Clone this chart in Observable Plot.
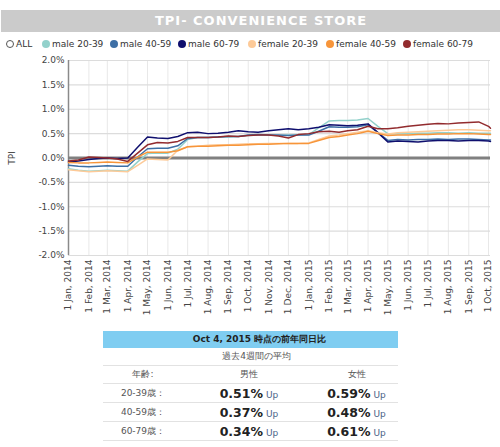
<!DOCTYPE html>
<html>
<head>
<meta charset="utf-8">
<script src="https://cdn.jsdelivr.net/npm/d3@7"></script>
<script src="https://cdn.jsdelivr.net/npm/@observablehq/plot@0.6"></script>
<style>
  body { margin: 0; width: 500px; height: 447px; background: #fff; overflow: hidden; position: relative;
         font-family: "DejaVu Sans", Verdana, sans-serif; }
  #title { position: absolute; left: 1px; top: 10px; width: 499px; height: 22px; background: #cbcbcb; box-sizing: border-box;
           padding-left: 21px; color: #fff; font-weight: bold; font-size: 13px; letter-spacing: 1px; text-align: center; line-height: 22px; }
  #legend { position: absolute; top: 39px; left: 0; height: 14px; font-size: 9px; color: #333; }
  #legend .item { position: absolute; top: 0; white-space: nowrap; display: flex; align-items: center; }
  #legend .dot { width: 8px; height: 8px; border-radius: 50%; margin-right: 2px; box-sizing: border-box; }
  #chart { position: absolute; top: 52px; left: 0; }
  #summary { position: absolute; left: 103px; top: 331px; width: 295px; border-collapse: collapse;
             font-size: 9px; color: #555; }
  #summary td { text-align: center; padding: 0; border-bottom: 1px solid #e2e2e2; }
  #summary tr.head td { background: #7fcdf1; color: #222; font-weight: bold; height: 17px; border-bottom: none; padding-left: 18px; }
  #summary tr.sub td { height: 17px; padding-left: 12px; }
  #summary tr.cols td { height: 17px; }
  #summary tr.val td { height: 18px; }
  #summary .num { font-size: 12.5px; font-weight: bold; color: #222; }
  #summary .up { font-size: 9px; color: #4a6387; margin-left: 3px; }
</style>
</head>
<body>
<div id="title">TPI- CONVENIENCE STORE</div>
<div id="legend"></div>
<div id="chart"></div>
<table id="summary"></table>
<script>
// Series names, in legend order
const seriesNames = ["male 20-39", "male 40-59", "male 60-79", "female 20-39", "female 40-59", "female 60-79"];

// Observation dates (twice a month, Jan 2014 – Oct 4, 2015)
const dates = [
  "2014-01-01","2014-01-16","2014-02-01","2014-02-16","2014-03-01","2014-03-16",
  "2014-04-01","2014-04-16","2014-05-01","2014-05-16","2014-06-01","2014-06-16",
  "2014-07-01","2014-07-16","2014-08-01","2014-08-16","2014-09-01","2014-09-16",
  "2014-10-01","2014-10-16","2014-11-01","2014-11-16","2014-12-01","2014-12-16",
  "2015-01-01","2015-01-16","2015-02-01","2015-02-16","2015-03-01","2015-03-16",
  "2015-04-01","2015-04-16","2015-05-01","2015-05-16","2015-06-01","2015-06-16",
  "2015-07-01","2015-07-16","2015-08-01","2015-08-16","2015-09-01","2015-09-16",
  "2015-10-01","2015-10-04"
];

// TPI (% year-on-year) per series
const male2039 = [-0.22,-0.25,-0.27,-0.26,-0.25,-0.26,-0.27,-0.08,0.09,0.10,0.10,0.18,
  0.38,0.42,0.42,0.43,0.43,0.44,0.46,0.47,0.47,0.46,0.47,0.47,
  0.48,0.62,0.76,0.77,0.77,0.78,0.81,0.65,0.50,0.50,0.50,0.51,
  0.51,0.52,0.52,0.51,0.52,0.51,0.51,0.51];
const male4059 = [-0.15,-0.17,-0.18,-0.17,-0.16,-0.17,-0.17,0.02,0.19,0.20,0.20,0.25,
  0.40,0.42,0.42,0.43,0.44,0.44,0.47,0.48,0.47,0.47,0.46,0.47,
  0.47,0.55,0.64,0.63,0.63,0.64,0.68,0.52,0.36,0.38,0.37,0.38,
  0.38,0.39,0.38,0.39,0.39,0.38,0.37,0.37];
const male6079 = [-0.08,-0.06,-0.03,-0.01,0.00,-0.01,0.00,0.22,0.43,0.41,0.40,0.44,
  0.52,0.53,0.50,0.51,0.53,0.56,0.54,0.53,0.56,0.58,0.60,0.58,
  0.60,0.63,0.68,0.67,0.66,0.67,0.70,0.52,0.33,0.35,0.34,0.33,
  0.35,0.36,0.36,0.35,0.36,0.36,0.35,0.34];
const female2039 = [-0.24,-0.26,-0.28,-0.27,-0.26,-0.27,-0.28,-0.15,-0.02,-0.03,-0.04,0.16,
  0.23,0.24,0.26,0.27,0.27,0.28,0.29,0.29,0.30,0.30,0.30,0.30,
  0.31,0.38,0.45,0.47,0.50,0.53,0.56,0.52,0.49,0.52,0.53,0.54,
  0.55,0.56,0.57,0.58,0.58,0.57,0.56,0.56];
const female4059 = [-0.09,-0.10,-0.10,-0.09,-0.08,-0.09,-0.10,0.02,0.12,0.12,0.12,0.15,
  0.23,0.24,0.24,0.25,0.26,0.26,0.27,0.28,0.28,0.29,0.30,0.30,
  0.30,0.36,0.42,0.44,0.47,0.50,0.55,0.50,0.46,0.47,0.47,0.48,
  0.48,0.49,0.49,0.50,0.50,0.49,0.48,0.48];
const female6079 = [-0.06,-0.04,0.02,0.01,0.00,-0.02,-0.07,0.10,0.27,0.32,0.31,0.34,
  0.42,0.42,0.42,0.43,0.45,0.44,0.46,0.47,0.47,0.45,0.41,0.48,
  0.50,0.54,0.55,0.53,0.56,0.58,0.65,0.60,0.60,0.62,0.65,0.67,
  0.69,0.71,0.70,0.72,0.73,0.74,0.65,0.61];

// Axis ticks
const monthTicks = [
  "2014-01-01","2014-02-01","2014-03-01","2014-04-01","2014-05-01","2014-06-01",
  "2014-07-01","2014-08-01","2014-09-01","2014-10-01","2014-11-01","2014-12-01",
  "2015-01-01","2015-02-01","2015-03-01","2015-04-01","2015-05-01","2015-06-01",
  "2015-07-01","2015-08-01","2015-09-01","2015-10-01"
];
const yTicks = [-2, -1.5, -1, -0.5, 0, 0.5, 1, 1.5, 2];

// Summary table (4-week average as of Oct 4, 2015)
const ageLabels = ["20-39歳：", "40-59歳：", "60-79歳："];
const maleAvg = [0.51, 0.37, 0.34];
const femaleAvg = [0.59, 0.48, 0.61];

const palette = ["#93d1cb", "#3d6fa5", "#0f0f6e", "#fdca98", "#f7953a", "#922b2e"];

const parse = d3.utcParse("%Y-%m-%d");
const seriesValues = [male2039, male4059, male6079, female2039, female4059, female6079];
const rows = seriesNames.flatMap((name, i) =>
  dates.map((d, j) => ({series: name, date: parse(d), value: seriesValues[i][j]})));
const tickDates = monthTicks.map(parse);
const fmtMonth = d3.utcFormat("%b, %Y");

// Legend
const legend = document.getElementById("legend");
const legendItems = [{name: "ALL", color: null, left: 6}]
  .concat(seriesNames.map((n, i) => ({name: n, color: palette[i], left: [42, 110, 178, 248, 326, 403][i]})));
for (const it of legendItems) {
  const el = document.createElement("div");
  el.className = "item";
  el.style.left = it.left + "px";
  const dot = document.createElement("span");
  dot.className = "dot";
  if (it.color) dot.style.background = it.color;
  else dot.style.border = "1.5px solid #555";
  el.appendChild(dot);
  el.appendChild(document.createTextNode(it.name));
  legend.appendChild(el);
}

// Chart
const chart = Plot.plot({
  width: 500,
  height: 271,
  marginTop: 8,
  marginLeft: 68,
  marginRight: 10,
  marginBottom: 68,
  style: {fontFamily: "DejaVu Sans, Verdana, sans-serif", fontSize: "9px", color: "#444", background: "#fff"},
  x: {type: "utc", domain: [parse("2014-01-01"), parse("2015-10-04")]},
  y: {domain: [-2, 2]},
  color: {domain: seriesNames, range: palette},
  marks: [
    Plot.gridX(tickDates, {stroke: "#e8e8e8", strokeOpacity: 1}),
    Plot.gridY(yTicks, {stroke: "#dcdcdc", strokeOpacity: 1, strokeWidth: 1.2}),
    Plot.axisY({ticks: yTicks, tickSize: 0, tickPadding: 4, tickFormat: d => d.toFixed(1) + "%",
      label: "TPI", labelAnchor: "center", labelOffset: 60, labelArrow: "none"}),
    Plot.axisX({ticks: tickDates, tickSize: 0, tickPadding: 4, tickRotate: -90,
      tickFormat: d => "1 " + fmtMonth(d), label: null}),
    Plot.ruleX([parse("2014-01-01")], {stroke: "#8a8a8a", strokeWidth: 1.5}),
    Plot.ruleY([0], {stroke: "#808080", strokeWidth: 3}),
    Plot.line(rows, {x: "date", y: "value", z: "series", stroke: "series", strokeWidth: 1.5})
  ]
});
document.getElementById("chart").appendChild(chart);

// Summary table
const table = document.getElementById("summary");
const cell = (tr, html, attrs = {}) => {
  const td = document.createElement("td");
  td.innerHTML = html;
  for (const k in attrs) td.setAttribute(k, attrs[k]);
  tr.appendChild(td);
  return td;
};
let tr = table.insertRow(); tr.className = "head";
cell(tr, "Oct 4, 2015 時点の前年同日比", {colspan: 3});
tr = table.insertRow(); tr.className = "sub";
cell(tr, "過去4週間の平均", {colspan: 3});
tr = table.insertRow(); tr.className = "cols";
cell(tr, "年齢:"); cell(tr, "男性"); cell(tr, "女性");
ageLabels.forEach((a, i) => {
  const r = table.insertRow(); r.className = "val";
  cell(r, a);
  cell(r, `<span class="num">${maleAvg[i].toFixed(2)}%</span><span class="up">Up</span>`);
  cell(r, `<span class="num">${femaleAvg[i].toFixed(2)}%</span><span class="up">Up</span>`);
});
const colW = [80, 132, 83];
Array.from(table.rows[2].cells).forEach((c, i) => c.style.width = colW[i] + "px");
</script>
</body>
</html>
